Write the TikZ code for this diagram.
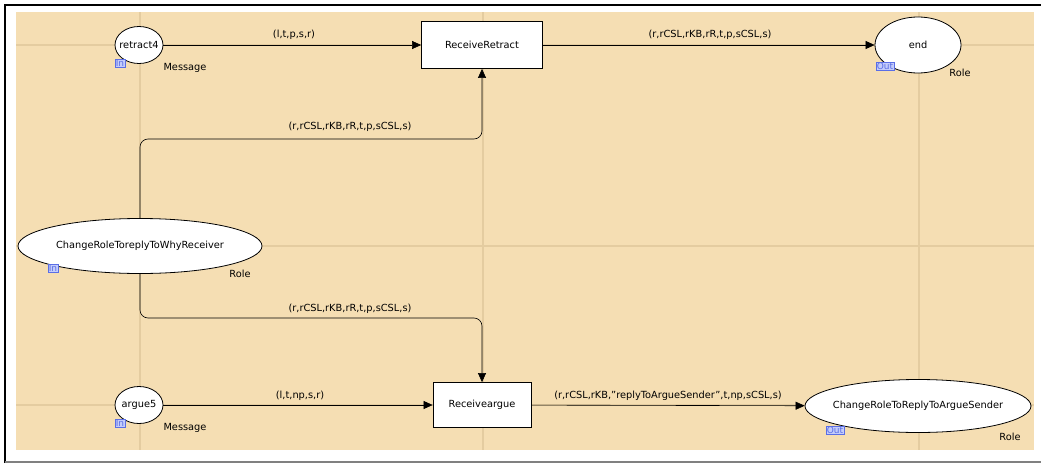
\documentclass[tikz,border=0pt]{standalone}
\usepackage{fontspec}
\setmainfont{DejaVu Sans}
\usepackage{tikz}
\usetikzlibrary{arrows.meta, positioning, shapes.geometric}
\usepackage{xcolor}
\definecolor{sheet}{RGB}{245,222,179}
\definecolor{gridline}{RGB}{228,204,160}
\definecolor{tagfill}{RGB}{196,204,250}
\definecolor{tagline}{RGB}{90,110,230}

\begin{document}
\begin{tikzpicture}[
x=1pt, y=-1pt,
every node/.style={font=\fontsize{9.8}{12}\selectfont},
place/.style={ellipse, draw, thick, fill=white, inner xsep=-6pt, inner ysep=0pt},
trans/.style={rectangle, draw, thick, fill=white, inner sep=0pt},
porttag/.style={rectangle, draw=tagline, fill=tagfill, text=tagline, inner sep=0.6pt, font=\fontsize{9}{9}\selectfont},
arrow/.style={-{Triangle[length=9pt,width=8pt]}, semithick},
inscr/.style={inner sep=1pt}
]
\useasboundingbox (0,0) rectangle (1041,463);

% sheet and grid
\fill[white] (0,0) rectangle (1041,463);
\fill[sheet] (16,12) rectangle (1034,450);
\foreach \gx in {140,483,919}
  \draw[gridline, line width=1.2pt] (\gx,12) -- (\gx,450);
\foreach \gy in {45,246,405}
  \draw[gridline, line width=1.2pt] (16,\gy) -- (1034,\gy);
\draw[line width=2pt] (5,463) -- (5,5) -- (1041,5);
\draw[gray, line width=1.5pt] (5,462) -- (1041,462);

% places
\node[place, minimum width=48, minimum height=37] (retract) at (139,45) {retract4};
\node[place, minimum width=86, minimum height=56] (endp) at (918,45) {end};
\node[place, minimum width=244, minimum height=55] (why) at (140,246) {ChangeRoleToreplyToWhyReceiver};
\node[place, minimum width=48, minimum height=37] (argue) at (139,405) {argue5};
\node[place, minimum width=226, minimum height=53] (replyargue) at (918,406) {ChangeRoleToReplyToArgueSender};

% transitions
\node[trans, minimum width=121, minimum height=47] (rcvretract) at (482,45) {ReceiveRetract};
\node[trans, minimum width=98, minimum height=45] (rcvargue) at (482,405) {Receiveargue};

% port tags and colour sets
\node[porttag] (inretract) at (120,63) {In};
\node[porttag] (inwhy) at (53,268) {In};
\node[porttag] (inargue) at (120,423) {In};
\node[porttag] (outend) at (885,66) {Out};
\node[porttag] (outreply) at (835,430) {Out};
\node (csretract) at (185,68) {Message};
\node (csargue) at (185,428) {Message};
\node (csend) at (960,73) {Role};
\node (cswhy) at (240,274) {Role};
\node (csreply) at (1010,437) {Role};

% arcs
\coordinate (bendup) at (482,139);
\coordinate (benddown) at (482,318);
\draw[arrow] (retract) -- (rcvretract);
\draw[arrow] (rcvretract) -- (endp);
\draw[arrow, rounded corners=8pt] (why.north) |- (bendup) -- (rcvretract.south);
\draw[arrow, rounded corners=8pt] (why.south) |- (benddown) -- (rcvargue.north);
\draw[arrow] (argue) -- (rcvargue);
\draw[arrow] (rcvargue) -- (replyargue);

% arc inscriptions
\node[inscr] (ins1) at (294,35) {(l,t,p,s,r)};
\node[inscr] (ins2) at (710,35) {(r,rCSL,rKB,rR,t,p,sCSL,s)};
\node[inscr] (ins3) at (350,127) {(r,rCSL,rKB,rR,t,p,sCSL,s)};
\node[inscr] (ins4) at (350,309) {(r,rCSL,rKB,rR,t,p,sCSL,s)};
\node[inscr] (ins5) at (300,396) {(l,t,np,s,r)};
\node[inscr] (ins6) at (668,396) {(r,rCSL,rKB,''replyToArgueSender'',t,np,sCSL,s)};

\end{tikzpicture}
\end{document}
